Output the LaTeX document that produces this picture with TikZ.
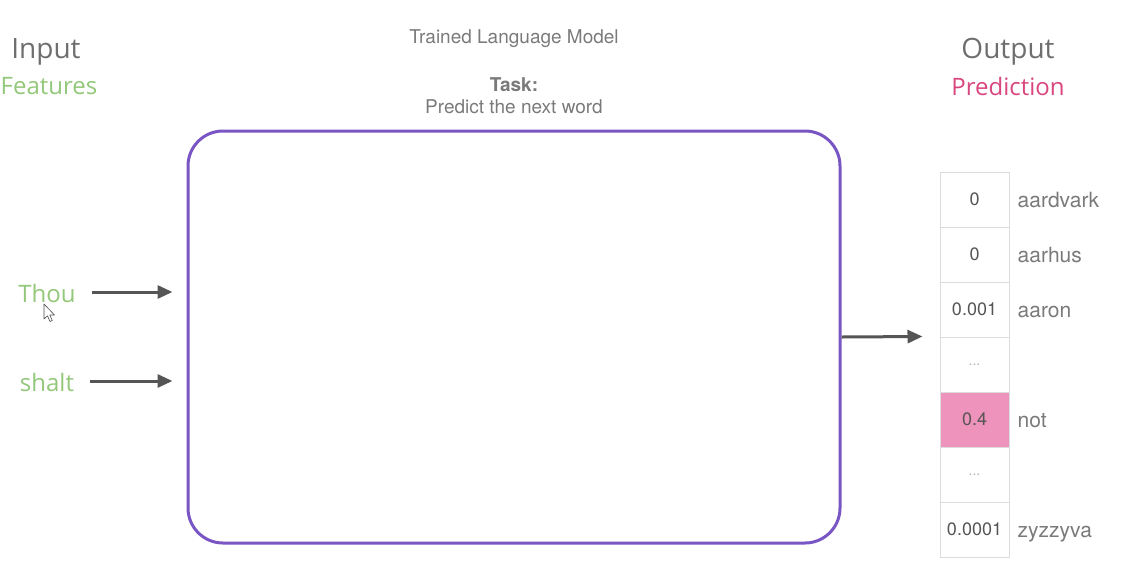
\documentclass[tikz,border=0pt]{standalone}
\usepackage{fontspec}
\setmainfont{TeX Gyre Heros}
\newfontfamily\opensans{Open Sans}
\usetikzlibrary{positioning,arrows.meta}
\definecolor{headgray}{HTML}{6E6E6E}
\definecolor{txtgray}{HTML}{7A7A7A}
\definecolor{featgreen}{HTML}{93C77A}
\definecolor{predpink}{HTML}{D9457E}
\definecolor{modelpurple}{HTML}{7A55C4}
\definecolor{cellpink}{HTML}{EE93BB}
\definecolor{cellline}{HTML}{DCDCDC}
\definecolor{arrgray}{HTML}{555555}
\newcommand{\celldots}{{\fontsize{14}{16}\selectfont...}}
\tikzset{
  head/.style={inner sep=0pt,anchor=base,text=headgray,font=\opensans\fontsize{28}{30}\selectfont},
  sub/.style={inner sep=0pt,font=\opensans\fontsize{24}{26}\selectfont},
  title/.style={inner sep=0pt,text=txtgray,font=\fontsize{19}{21}\selectfont},
  cell/.style={draw=cellline,line width=1pt,minimum width=69pt,minimum height=55pt,inner sep=0pt,font=\fontsize{18}{20}\selectfont},
  word/.style={inner sep=0pt,anchor=base west,text=txtgray,font=\fontsize{21}{23}\selectfont},
  arr/.style={draw=arrgray,line width=3pt,-{Triangle[length=15pt,width=13pt]}}
}
\begin{document}
\begin{tikzpicture}[x=1pt,y=-1pt]
\useasboundingbox (0,0) rectangle (1123,576);
% headings
\node[head] (input) at (46,58) {Input};
\node[sub,text=featgreen] (features) at (49,86) {Features};
\node[head] (output) at (1008,58) {Output};
\node[sub,text=predpink] (prediction) at (1008,86) {Prediction};
\node[title] (lm) at (514,39) {Trained Language Model};
\node[title,font=\bfseries\fontsize{19}{21}\selectfont] (task) at (514,85) {Task:};
\node[title] (predict) at (514,107) {Predict the next word};
% model
\node[draw=modelpurple,line width=3pt,rounded corners=35pt,minimum width=652pt,minimum height=412pt] (model) at (514,337) {};
% inputs
\node[sub,text=featgreen] (thou) at (47,293) {Thou};
\node[sub,text=featgreen] (shalt) at (47,382) {shalt};
\draw[arr] ([xshift=16pt,yshift=1pt]thou.east) -- ([xshift=-14pt]model.west |- 0,292);
\draw[arr] ([xshift=16pt,yshift=1pt]shalt.east) -- ([xshift=-14pt]model.west |- 0,381);
% output table
\foreach \val/\word/\bg/\fg [count=\i] in {0/aardvark/white/arrgray, 0/aarhus/white/arrgray, 0.001/aaron/white/arrgray, \celldots/{}/white/gray!60, 0.4/not/cellpink/arrgray, \celldots/{}/white/gray!60, 0.0001/zyzzyva/white/arrgray}{
  \node[cell,fill=\bg,text=\fg] (c\i) at (974.5,144.5+55*\i) {\val};
  \node[word] (w\i) at ([xshift=8pt,yshift=-8pt]c\i.east) {\word};
}
\draw[arr] (model.east) -- ([xshift=-17pt]c4.north west);
% mouse pointer
\draw[black!70,fill=white,line width=0.6pt,line join=round] (44,304) -- (44,319) -- (47.5,315.8) -- (50,321.5) -- (52.3,320.5) -- (49.8,315) -- (54.5,315) -- cycle;
\end{tikzpicture}
\end{document}
